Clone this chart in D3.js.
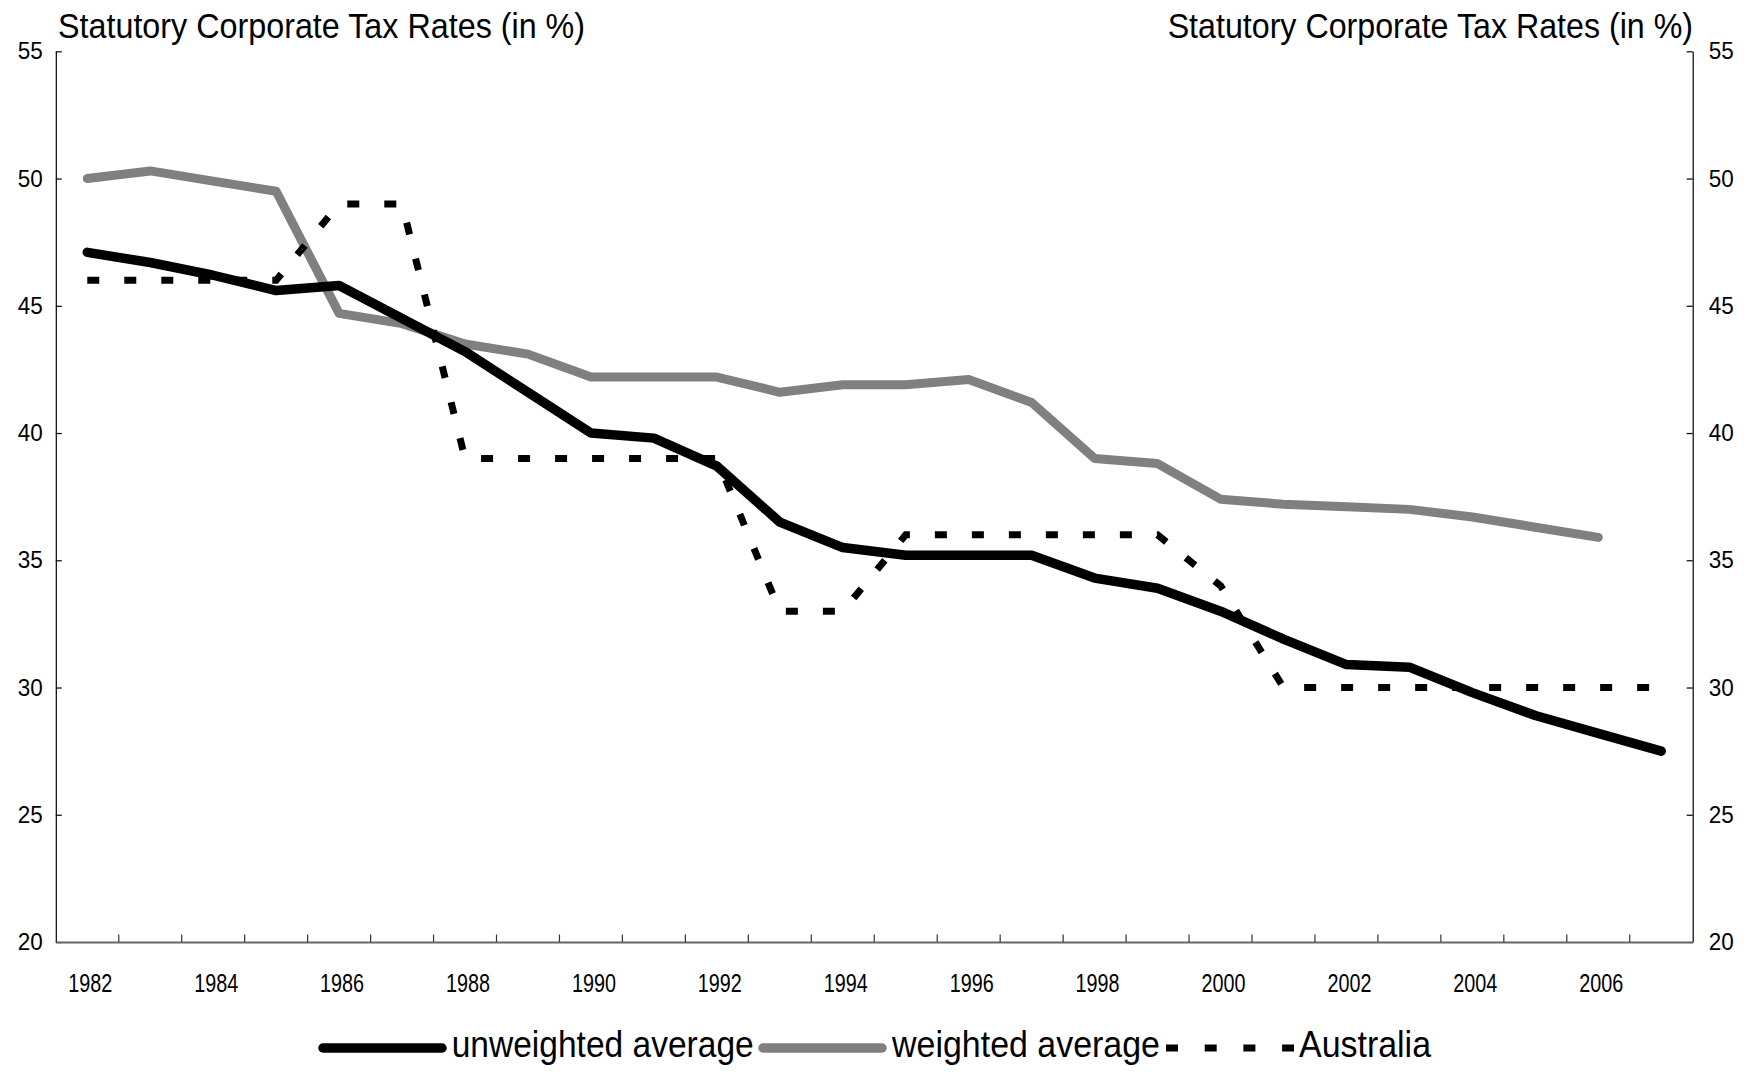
<!DOCTYPE html>
<html>
<head>
<meta charset="utf-8">
<script src="https://cdn.jsdelivr.net/npm/d3@7/dist/d3.min.js"></script>
<style>
  html, body { margin: 0; padding: 0; background: #fff; }
  svg { display: block; }
  text { font-family: "Liberation Sans", Arial, sans-serif; fill: #000; }
</style>
</head>
<body>
<svg id="chart" width="1749" height="1075"></svg>
<script>
// Statutory corporate tax rates, 1982-2007 (in %)
const years = [1982, 1983, 1984, 1985, 1986, 1987, 1988, 1989, 1990, 1991, 1992, 1993, 1994,
               1995, 1996, 1997, 1998, 1999, 2000, 2001, 2002, 2003, 2004, 2005, 2006, 2007];
const unweightedAverage = [47.1, 46.7, 46.2, 45.6, 45.8, 44.5, 43.2, 41.6, 40.0, 39.8, 38.7, 36.5, 35.5,
                           35.2, 35.2, 35.2, 34.3, 33.9, 33.0, 31.9, 30.9, 30.8, 29.8, 28.9, 28.2, 27.5];
const weightedAverage = [50.0, 50.3, 49.9, 49.5, 44.7, 44.3, 43.5, 43.1, 42.2, 42.2, 42.2, 41.6, 41.9,
                         41.9, 42.1, 41.2, 39.0, 38.8, 37.4, 37.2, 37.1, 37.0, 36.7, 36.3, 35.9, null];
const australia = [46, 46, 46, 46, 49, 49, 39, 39, 39, 39, 39, 33, 33,
                   36, 36, 36, 36, 36, 34, 30, 30, 30, 30, 30, 30, 30];
const yTickValues = [20, 25, 30, 35, 40, 45, 50, 55];
const yearLabels = [1982, 1984, 1986, 1988, 1990, 1992, 1994, 1996, 1998, 2000, 2002, 2004, 2006];
const titleText = "Statutory Corporate Tax Rates (in %)";
const seriesNames = ["unweighted average", "weighted average", "Australia"];

const svg = d3.select("#chart");
const plotLeft = 55.8, plotRight = 1692.7, plotTop = 51.3, plotBottom = 942;

const x = d3.scaleBand().domain(years).range([plotLeft, plotRight]).padding(0);
const y = d3.scaleLinear().domain([20, 55]).range([plotBottom, plotTop]);
const cx = yr => x(yr) + x.bandwidth() / 2;

// Titles above both value axes (slightly tall lettering)
svg.append("text").attr("transform", "translate(58,38) scale(1,1.08)")
  .attr("font-size", 32.3).text(titleText);
svg.append("text").attr("transform", "translate(1693,38) scale(1,1.08)").attr("text-anchor", "end")
  .attr("font-size", 32.2).text(titleText);

// Left value axis
const yLeft = svg.append("g").attr("transform", `translate(${plotLeft},0)`)
  .call(d3.axisLeft(y).tickValues(yTickValues).tickSize(-6).tickSizeOuter(0).tickPadding(13));
// Right value axis
const yRight = svg.append("g").attr("transform", `translate(${plotRight},0)`)
  .call(d3.axisRight(y).tickValues(yTickValues).tickSize(-6).tickSizeOuter(0).tickPadding(16));
[yLeft, yRight].forEach(g => {
  g.select(".domain").attr("stroke", "#000").attr("stroke-width", 1.2);
  g.selectAll(".tick line").attr("stroke", "#000").attr("stroke-width", 1.2);
  g.selectAll(".tick text").attr("font-size", 24).attr("font-family", "Liberation Sans, Arial, sans-serif")
    .attr("textLength", 25).attr("lengthAdjust", "spacingAndGlyphs").attr("fill", "#000");
});

// Category axis: labels on every other year, ticks on category boundaries
const xAxis = svg.append("g").attr("transform", `translate(0,${plotBottom})`)
  .call(d3.axisBottom(x).tickValues(yearLabels).tickSize(0).tickSizeOuter(0).tickPadding(0));
xAxis.select(".domain").attr("stroke", "#666").attr("stroke-width", 2);
xAxis.selectAll(".tick text")
  .attr("font-size", 25).attr("font-family", "Liberation Sans, Arial, sans-serif").attr("fill", "#000")
  .attr("dy", null).attr("y", 50).attr("x", 3)
  .attr("textLength", 44).attr("lengthAdjust", "spacingAndGlyphs");
svg.append("g").selectAll("line")
  .data(years.slice(1))
  .join("line")
  .attr("x1", d => x(d)).attr("x2", d => x(d))
  .attr("y1", plotBottom).attr("y2", plotBottom - 7.5)
  .attr("stroke", "#333").attr("stroke-width", 1.2);

// Series lines
const line = d3.line()
  .defined(d => d.v !== null)
  .x(d => cx(d.year))
  .y(d => y(d.v));
const toPts = vals => years.map((yr, i) => ({ year: yr, v: vals[i] }));

svg.append("path").datum(toPts(weightedAverage))
  .attr("d", line).attr("fill", "none").attr("stroke", "#808080")
  .attr("stroke-width", 9).attr("stroke-linejoin", "round").attr("stroke-linecap", "round");
svg.append("path").datum(toPts(australia))
  .attr("d", line).attr("fill", "none").attr("stroke", "#000")
  .attr("stroke-width", 7).attr("stroke-dasharray", "12,25").attr("stroke-linecap", "butt");
svg.append("path").datum(toPts(unweightedAverage))
  .attr("d", line).attr("fill", "none").attr("stroke", "#000")
  .attr("stroke-width", 9.5).attr("stroke-linejoin", "round").attr("stroke-linecap", "round");

// Legend
const legendY = 1048, textBase = 1057;
const legend = [
  { name: seriesNames[0], x1: 323, x2: 442, color: "#000", width: 9.5, dash: null, cap: "round", tx: 451.7, w: 302 },
  { name: seriesNames[1], x1: 763, x2: 882, color: "#808080", width: 9.5, dash: null, cap: "round", tx: 892, w: 268 },
  { name: seriesNames[2], x1: 1166, x2: 1294, color: "#000", width: 7, dash: "12,26.7", cap: "butt", tx: 1299, w: 132 }
];
const lg = svg.append("g").selectAll("g").data(legend).join("g");
lg.append("line")
  .attr("x1", d => d.x1).attr("x2", d => d.x2)
  .attr("y1", legendY).attr("y2", legendY)
  .attr("stroke", d => d.color).attr("stroke-width", d => d.width)
  .attr("stroke-linecap", d => d.cap)
  .attr("stroke-dasharray", d => d.dash);
lg.append("text")
  .attr("x", d => d.tx).attr("y", textBase)
  .attr("font-size", 37)
  .attr("textLength", d => d.w).attr("lengthAdjust", "spacingAndGlyphs")
  .text(d => d.name);
</script>
</body>
</html>
